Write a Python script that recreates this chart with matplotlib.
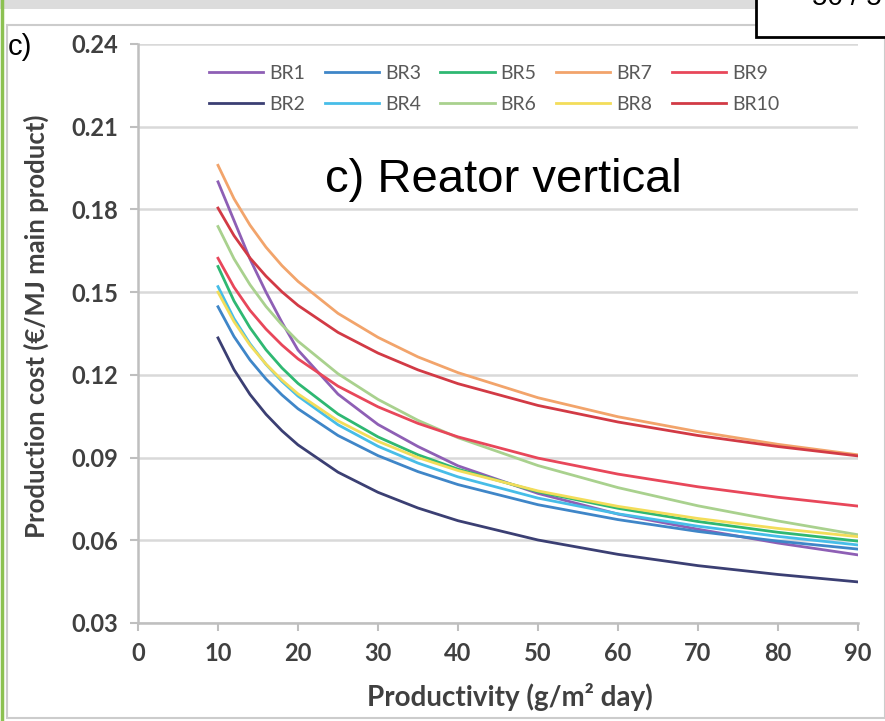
import matplotlib
matplotlib.use('Agg')
import matplotlib.pyplot as plt
from matplotlib.patches import Rectangle
from matplotlib.lines import Line2D

# productivity (g/m2 day) where the curves were read
prod = [10, 12, 14, 16, 18, 20, 25, 30, 35, 40, 50, 60, 70, 80, 90]

# production cost (EUR/MJ main product) per reactor
br1 = [0.190, 0.176, 0.162, 0.150, 0.139, 0.129, 0.113, 0.102, 0.094, 0.087, 0.077, 0.0695, 0.064, 0.059, 0.0547]
br2 = [0.1334, 0.1219, 0.1129, 0.1057, 0.0997, 0.0946, 0.0847, 0.0774, 0.0717, 0.0671, 0.0601, 0.0549, 0.0508, 0.0476, 0.0449]
br3 = [0.1447, 0.1339, 0.1254, 0.1185, 0.1127, 0.1077, 0.0980, 0.0907, 0.0849, 0.0802, 0.0729, 0.0675, 0.0632, 0.0597, 0.0568]
br4 = [0.152, 0.1404, 0.1313, 0.1238, 0.1176, 0.1123, 0.1019, 0.0941, 0.0880, 0.0830, 0.0753, 0.0696, 0.0651, 0.0614, 0.0583]
br5 = [0.1593, 0.1468, 0.1371, 0.1291, 0.1225, 0.1169, 0.1058, 0.0975, 0.0910, 0.0858, 0.0776, 0.0716, 0.0668, 0.0629, 0.0597]
br6 = [0.1738, 0.1621, 0.1527, 0.1448, 0.1381, 0.1322, 0.1204, 0.1111, 0.1035, 0.0972, 0.0871, 0.0791, 0.0725, 0.0670, 0.0620]
br7 = [0.196, 0.1839, 0.1743, 0.1663, 0.1596, 0.1539, 0.1423, 0.1336, 0.1265, 0.1208, 0.1117, 0.1048, 0.0994, 0.0948, 0.0910]
br8 = [0.150, 0.1393, 0.1308, 0.1239, 0.1181, 0.1131, 0.1033, 0.0959, 0.0900, 0.0853, 0.0779, 0.0723, 0.0679, 0.0643, 0.0613]
br9 = [0.1623, 0.1518, 0.1434, 0.1366, 0.1308, 0.1258, 0.1159, 0.1084, 0.1024, 0.0975, 0.0898, 0.0840, 0.0794, 0.0756, 0.0724]
br10 = [0.1805, 0.1705, 0.1624, 0.1558, 0.1501, 0.1452, 0.1354, 0.1279, 0.1218, 0.1168, 0.1089, 0.1029, 0.0980, 0.0940, 0.0906]

names = ['BR1', 'BR2', 'BR3', 'BR4', 'BR5', 'BR6', 'BR7', 'BR8', 'BR9', 'BR10']
series = [br1, br2, br3, br4, br5, br6, br7, br8, br9, br10]
colors = ['#8e5fb5', '#3b3f73', '#3f86c8', '#47bde8', '#2fb872',
          '#a9d18e', '#f2a46b', '#f3dd5a', '#e8475a', '#d23a45']

W, H = 885, 721
fig = plt.figure(figsize=(W / 100, H / 100), dpi=100)

# outer frame of the screenshot
fig.add_artist(Rectangle((0, 1 - 9 / H), 1, 9 / H, transform=fig.transFigure,
                         facecolor='#dcdcdc', edgecolor='none'))
fig.add_artist(Rectangle((7 / W, 3 / H), (W - 7) / W, (H - 28) / H,
                         transform=fig.transFigure, facecolor='none',
                         edgecolor='#cccccc', linewidth=1.5))
fig.add_artist(Line2D([2 / W, 2 / W], [0, 1], transform=fig.transFigure,
                      color='#8cc152', linewidth=2.5))
fig.add_artist(Rectangle((756 / W, 1 - 37 / H), 140 / W, 50 / H,
                         transform=fig.transFigure, facecolor='white',
                         edgecolor='black', linewidth=2, zorder=5))
fig.text(812 / W, 1 + 2 / H, '50 / 5', fontsize=20, family='Liberation Sans',
         ha='left', va='center', zorder=6)

ax = fig.add_axes([138 / W, (H - 623) / H, (858 - 138) / W, (623 - 44) / H])

for name, vals, c in zip(names, series, colors):
    ax.plot(prod, vals, color=c, linewidth=2.0, label=name)

ax.set_xlim(0, 90)
ax.set_ylim(0.03, 0.24)
ax.set_xticks(range(0, 91, 10))
ax.set_yticks([0.03, 0.06, 0.09, 0.12, 0.15, 0.18, 0.21, 0.24])
ax.set_yticklabels([f'{v:.2f}' for v in ax.get_yticks()])
ax.grid(axis='y', color='#d9d9d9', linewidth=1.8)
ax.set_axisbelow(True)
for s in ['top', 'right']:
    ax.spines[s].set_visible(False)
for s in ['left', 'bottom']:
    ax.spines[s].set_color('#bfbfbf')
    ax.spines[s].set_linewidth(1.8)
ax.tick_params(colors='#bfbfbf', length=6, width=1.5, labelcolor='#404040',
               labelsize=17, pad=8)
for lab in ax.get_xticklabels() + ax.get_yticklabels():
    lab.set_family('Lato')
    lab.set_fontweight('bold')

fig.text(36 / W, 1 - 326 / H, 'Production cost (€/MJ main product)',
         rotation=90, ha='center', va='center', fontsize=18.5, family='Lato',
         fontweight='bold', color='#404040')
fig.text(510 / W, 1 - 697 / H, 'Productivity (g/m² day)', ha='center',
         va='center', fontsize=20, family='Lato', fontweight='bold',
         color='#404040')

fig.text(20 / W, 1 - 47 / H, 'c)', ha='center', va='center', fontsize=21,
         family='Liberation Sans')
fig.text(503 / W, 1 - 180 / H, 'c) Reator vertical', ha='center', va='center',
         fontsize=34, family='Liberation Sans')

leg = fig.legend(loc='upper left', bbox_to_anchor=(209 / W, 1 - 65 / H),
                 ncol=5, frameon=False, fontsize=14, handlelength=2.8,
                 handletextpad=0.3, columnspacing=1.0, labelspacing=0.72,
                 borderpad=0, borderaxespad=0)
for t in leg.get_texts():
    t.set_color('#595959')
    t.set_family('Lato')

fig.savefig('out.png', dpi=100)
